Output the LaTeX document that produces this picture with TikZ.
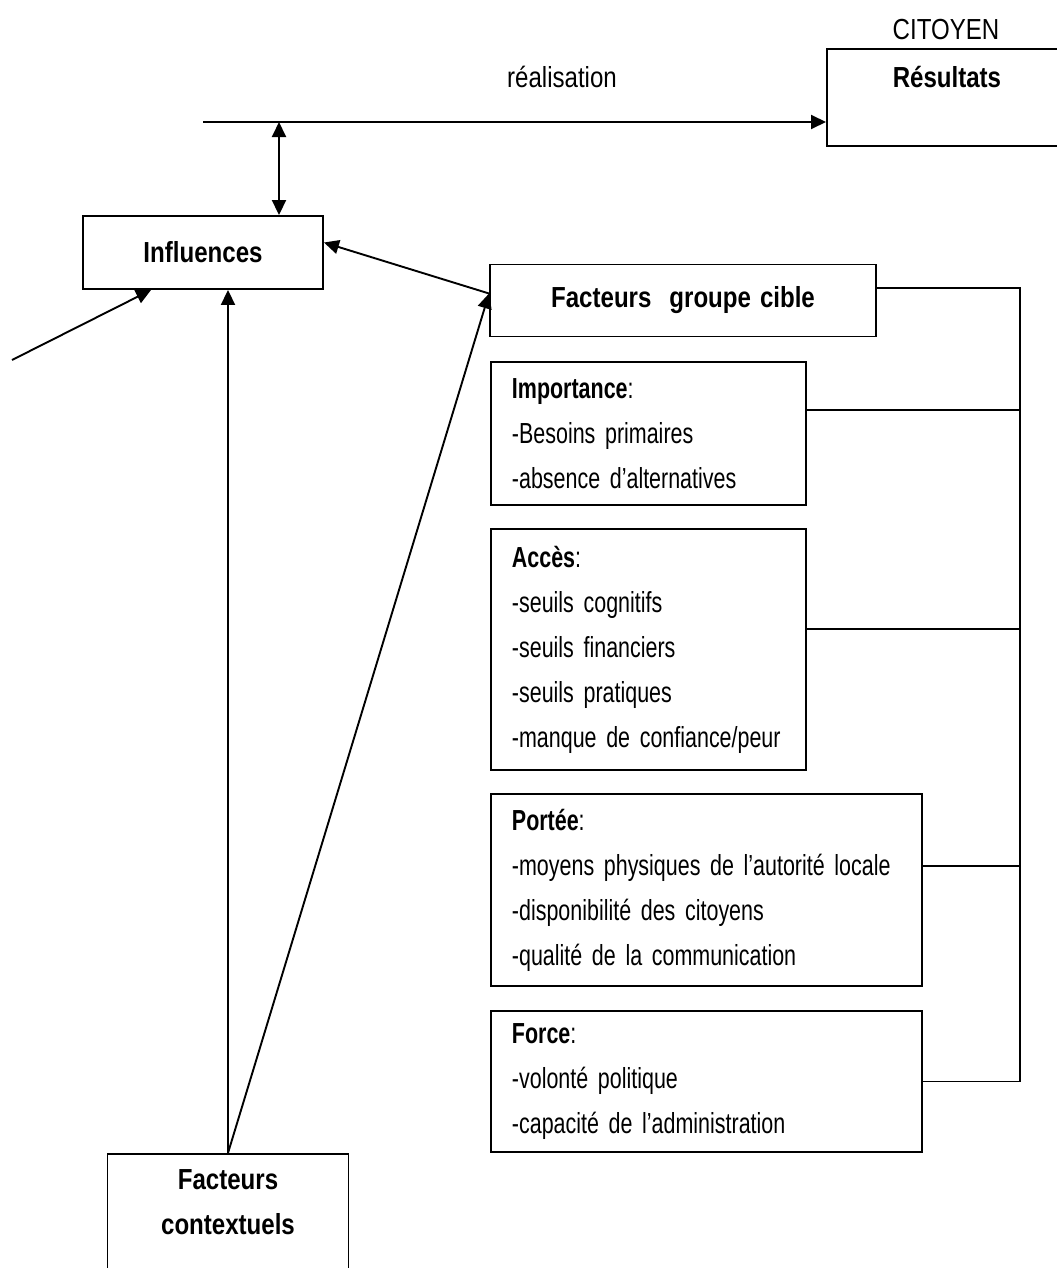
\documentclass[tikz,border=0pt]{standalone}
\usepackage{fontspec}
\setmainfont{Liberation Sans}[FakeStretch=0.74]
\newfontfamily\titlefont{Liberation Sans}[FakeStretch=0.83]
\newcommand{\titlestyle}{\titlefont\spaceskip=4.5pt\relax}
\usetikzlibrary{arrows.meta}

\begin{document}
\fontsize{14.5}{22.5}\selectfont\fontdimen2\font=3.1pt\fontdimen3\font=1pt\relax
\begin{tikzpicture}[x=0.5pt, y=-0.5pt, line width=0.95pt,
	 >={Triangle[length=7.5pt,width=7pt]},
	 plaintext/.style={font=\titlestyle},
	 titlebox/.style={draw, inner sep=0pt, align=center, font=\titlestyle\bfseries},
	 listbox/.style={draw, anchor=north west, align=left, inner xsep=10.5pt, inner ysep=0pt}]
	    \useasboundingbox (0,0) rectangle (1056,1268);
	    \node (citoyen) at (946,30) [plaintext] {CITOYEN};
	    \node (realisation) at (562,77) [plaintext] {réalisation};
	    \node (resultats) at (826,48) [titlebox, anchor=north west, minimum width=120pt, inner ysep=8.5pt, text depth=21pt] {Résultats};
	    \node (influences) at (203,252.5) [titlebox, minimum width=120pt, minimum height=36.5pt] {Influences};
	    \node (fgcible) at (683,300.5) [titlebox, minimum width=193pt, minimum height=36pt] {Facteurs\ \ groupe cible};
	    \node (contextuels) at (228,1153) [titlebox, anchor=north, minimum width=120.5pt, inner ysep=7.75pt, text depth=40pt] {Facteurs\\contextuels};
	    \node (importance) at (490,361) [listbox, text width=136.5pt, minimum height=71.5pt] {\textbf{Importance}:\\-Besoins primaires\\-absence d’alternatives};
	    \node (acces) at (490,528) [listbox, text width=136.5pt, minimum height=120.5pt] {\textbf{Accès}:\\-seuils cognitifs\\-seuils financiers\\-seuils pratiques\\-manque de confiance/peur};
	    \node (portee) at (490,793) [listbox, text width=194.5pt, minimum height=96pt] {\textbf{Portée}:\\-moyens physiques de l’autorité locale\\-disponibilité des citoyens\\-qualité de la communication};
	    \node (force) at (490,1010) [listbox, text width=194.5pt, minimum height=70.5pt] {\textbf{Force}:\\-volonté politique\\-capacité de l’administration};
	    \coordinate (start) at (203,122);
	    \coordinate (fork) at (279,122);
	    \coordinate (outside) at (12,360);
	    \coordinate (rail) at (1020,288);
	    \draw[->] (start) -- (start -| resultats.west);
	    \draw[<->] (fork) -- (fork |- influences.north);
	    \draw[->] (outside) -- ([xshift=34.5pt]influences.south west);
	    \draw[->] (contextuels.north) -- (contextuels.north |- influences.south);
	    \draw[->] (contextuels.north) -- ([yshift=3.5pt]fgcible.west);
	    \draw[->] ([yshift=3.5pt]fgcible.west) -- ([yshift=5pt]influences.east);
	    \draw (fgcible.east |- rail) -- (rail) -- (rail |- force.east) -- (force.east);
	    \foreach \n/\s in {importance/11.75, acces/10.25, portee/12}
	        \draw ([yshift=\s pt]\n.east) coordinate (b) -- (b -| rail);
	 \end{tikzpicture}
\end{document}
